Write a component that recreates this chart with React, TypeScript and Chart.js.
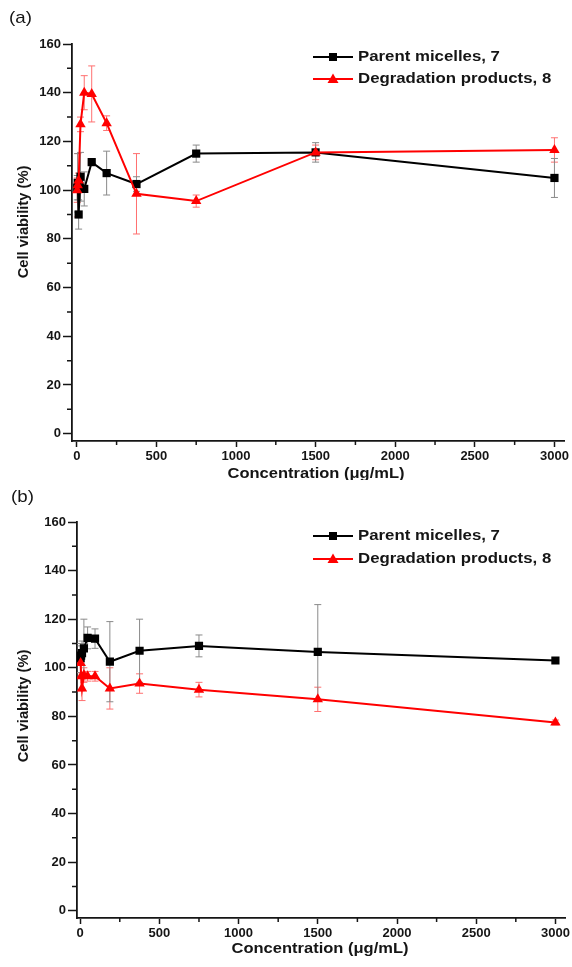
import React, { useEffect, useRef } from 'react';
import { Chart, registerables } from 'chart.js';

Chart.register(...registerables);

// ---------------- DATA ----------------
const CONCENTRATIONS = [2.9, 5.9, 11.7, 23.4, 46.9, 93.75, 187.5, 375, 750, 1500, 3000];

const A_PARENT = [101, 103, 90, 105.5, 100.5, 111.5, 107, 102.5, 115, 115.5, 105];
const A_PARENT_ERR = [5, 12, 6, 10, 7, 1, 9, 3, 3.5, 4, 8];
const A_DEGRADATION = [100, 102, 104, 127, 140, 139.5, 127.5, 98.5, 95.5, 115.5, 116.5];
const A_DEGRADATION_ERR = [5, 13, 3, 3, 7, 11.5, 3, 16.5, 2.5, 3, 5];

const B_PARENT = [104, 105, 106, 108, 112.3, 112, 102.5, 107, 109, 106.5, 103];
const B_PARENT_ERR = [6, 4, 5, 12, 4.5, 4, 16.5, 13, 4.5, 19.5, 1];
const B_DEGRADATION = [102, 96.5, 91.5, 97, 96.5, 96.5, 91.5, 93.5, 91, 87, 77.5];
const B_DEGRADATION_ERR = [4, 6, 5, 3, 2, 2, 8.5, 4, 3, 5, 1];

const X_TICKS = [0, 500, 1000, 1500, 2000, 2500, 3000];
const Y_TICKS = [0, 20, 40, 60, 80, 100, 120, 140, 160];

const SERIES_LABELS = ['Parent micelles, 7', 'Degradation products, 8'];
const X_TITLE = 'Concentration (\u03bcg/mL)';
const Y_TITLE = 'Cell viability (%)';
const PANEL_LABELS = ['(a)', '(b)'];

// ---------------- STYLE ----------------
const FONT = '"Liberation Sans", Arial, Helvetica, sans-serif';
const INK = '#151515';
const BLACK = '#000000';
const RED = '#ff0000';
const BLACK_ERR = '#8a8a8a';
const RED_ERR = '#ff7070';

interface PanelCfg {
  label: string;
  parent: number[];
  parentErr: number[];
  degr: number[];
  degrErr: number[];
  height: number;
  top: number;
  xMin: number;
  xMax: number;
  yMin: number;
  yMax: number;
  yAxisWidth: number;
  xAxisHeight: number;
  padTop: number;
  padRight: number;
  labelPos: [number, number];
  yTitlePos: [number, number];
  xTitlePos: [number, number];
  legendY: [number, number];
}

const PANELS: PanelCfg[] = [
  {
    label: PANEL_LABELS[0],
    parent: A_PARENT,
    parentErr: A_PARENT_ERR,
    degr: A_DEGRADATION,
    degrErr: A_DEGRADATION_ERR,
    top: 0,
    height: 480,
    xMin: -30,
    xMax: 3060,
    yMin: -3,
    yMax: 160,
    yAxisWidth: 72,
    xAxisHeight: 39,
    padTop: 44,
    padRight: 8,
    labelPos: [9, 18],
    yTitlePos: [24, 222],
    xTitlePos: [316, 474],
    legendY: [57, 79],
  },
  {
    label: PANEL_LABELS[1],
    parent: B_PARENT,
    parentErr: B_PARENT_ERR,
    degr: B_DEGRADATION,
    degrErr: B_DEGRADATION_ERR,
    top: 480,
    height: 487,
    xMin: -20,
    xMax: 3063,
    yMin: -3,
    yMax: 160,
    yAxisWidth: 77,
    xAxisHeight: 49,
    padTop: 42,
    padRight: 5,
    labelPos: [11, 17],
    yTitlePos: [24, 226],
    xTitlePos: [320, 469],
    legendY: [56, 79],
  },
];

function drawStretchedText(
  ctx: CanvasRenderingContext2D,
  text: string,
  x: number,
  y: number,
  font: string,
  align: CanvasTextAlign,
  sx: number,
  rotate = 0
) {
  ctx.save();
  ctx.translate(x, y);
  if (rotate) ctx.rotate(rotate);
  ctx.scale(sx, 1);
  ctx.font = font;
  ctx.fillStyle = INK;
  ctx.textAlign = align;
  ctx.textBaseline = 'middle';
  ctx.fillText(text, 0, 0);
  ctx.restore();
}

function drawMarker(ctx: CanvasRenderingContext2D, kind: 'rect' | 'tri', cx: number, cy: number, color: string) {
  ctx.save();
  ctx.fillStyle = color;
  if (kind === 'rect') {
    ctx.fillRect(cx - 4, cy - 4, 8, 8);
  } else {
    ctx.beginPath();
    ctx.moveTo(cx, cy - 5.5);
    ctx.lineTo(cx + 5.5, cy + 4);
    ctx.lineTo(cx - 5.5, cy + 4);
    ctx.closePath();
    ctx.fill();
  }
  ctx.restore();
}

function makeChart(canvas: HTMLCanvasElement, p: PanelCfg) {
  const errorBars = {
    id: 'errorBars',
    beforeDatasetsDraw(chart: any) {
      const ctx: CanvasRenderingContext2D = chart.ctx;
      const yScale = chart.scales.y;
      chart.data.datasets.forEach((ds: any, i: number) => {
        const meta = chart.getDatasetMeta(i);
        ctx.save();
        ctx.strokeStyle = ds.errColor;
        ctx.lineWidth = 1;
        meta.data.forEach((el: any, j: number) => {
          const v = ds.data[j].y;
          const e = ds.errors[j];
          const x = el.x;
          const yt = yScale.getPixelForValue(v + e);
          const yb = yScale.getPixelForValue(v - e);
          ctx.beginPath();
          ctx.moveTo(x, yt);
          ctx.lineTo(x, yb);
          ctx.moveTo(x - 3.5, yt);
          ctx.lineTo(x + 3.5, yt);
          ctx.moveTo(x - 3.5, yb);
          ctx.lineTo(x + 3.5, yb);
          ctx.stroke();
        });
        ctx.restore();
      });
    },
  };

  const decorations = {
    id: 'decorations',
    afterDraw(chart: any) {
      const ctx: CanvasRenderingContext2D = chart.ctx;
      const xs = chart.scales.x;
      const ys = chart.scales.y;
      // minor ticks
      ctx.save();
      ctx.strokeStyle = INK;
      ctx.lineWidth = 1.5;
      ctx.beginPath();
      for (let i = 0; i < X_TICKS.length - 1; i++) {
        const px = xs.getPixelForValue((X_TICKS[i] + X_TICKS[i + 1]) / 2);
        ctx.moveTo(px, xs.top);
        ctx.lineTo(px, xs.top + 4);
      }
      for (let i = 0; i < Y_TICKS.length - 1; i++) {
        const py = ys.getPixelForValue((Y_TICKS[i] + Y_TICKS[i + 1]) / 2);
        ctx.moveTo(ys.right, py);
        ctx.lineTo(ys.right - 5, py);
      }
      ctx.stroke();
      ctx.restore();

      // panel label
      drawStretchedText(ctx, p.label, p.labelPos[0], p.labelPos[1], `17px ${FONT}`, 'left', 1.1);
      // axis titles
      drawStretchedText(ctx, Y_TITLE, p.yTitlePos[0], p.yTitlePos[1], `bold 14px ${FONT}`, 'center', 1.05, -Math.PI / 2);
      drawStretchedText(ctx, X_TITLE, p.xTitlePos[0], p.xTitlePos[1], `bold 15px ${FONT}`, 'center', 1.1);

      // legend
      const lx0 = 313;
      const lx1 = 353;
      const kinds: ('rect' | 'tri')[] = ['rect', 'tri'];
      const colors = [BLACK, RED];
      for (let k = 0; k < 2; k++) {
        const ly = p.legendY[k];
        ctx.save();
        ctx.strokeStyle = colors[k];
        ctx.lineWidth = 2;
        ctx.beginPath();
        ctx.moveTo(lx0, ly);
        ctx.lineTo(lx1, ly);
        ctx.stroke();
        ctx.restore();
        drawMarker(ctx, kinds[k], (lx0 + lx1) / 2, ly, colors[k]);
        drawStretchedText(ctx, SERIES_LABELS[k], 358, ly, `bold 15px ${FONT}`, 'left', 1.12);
      }
    },
  };

  const tickFont = { family: FONT, size: 13, weight: 'bold' as const };

  return new Chart(canvas, {
    type: 'line',
    data: {
      datasets: [
        {
          label: SERIES_LABELS[1],
          data: CONCENTRATIONS.map((x, i) => ({ x, y: p.degr[i] })),
          borderColor: RED,
          backgroundColor: RED,
          borderWidth: 2,
          pointStyle: 'triangle',
          pointRadius: 6,
          pointBorderWidth: 0,
          pointBackgroundColor: RED,
          order: 0,
          errors: p.degrErr,
          errColor: RED_ERR,
        } as any,
        {
          label: SERIES_LABELS[0],
          data: CONCENTRATIONS.map((x, i) => ({ x, y: p.parent[i] })),
          borderColor: BLACK,
          backgroundColor: BLACK,
          borderWidth: 2,
          pointStyle: 'rect',
          pointRadius: 5.8,
          pointBorderWidth: 0,
          pointBackgroundColor: BLACK,
          order: 1,
          errors: p.parentErr,
          errColor: BLACK_ERR,
        } as any,
      ],
    },
    options: {
      animation: false,
      responsive: false,
      devicePixelRatio: 1,
      events: [],
      layout: { padding: { left: 0, top: p.padTop, right: p.padRight, bottom: 0 } },
      plugins: {
        legend: { display: false },
        tooltip: { enabled: false },
        title: { display: false },
      },
      elements: { line: { tension: 0 } },
      scales: {
        x: {
          type: 'linear',
          min: p.xMin,
          max: p.xMax,
          afterBuildTicks: (s: any) => {
            s.ticks = X_TICKS.map((v) => ({ value: v }));
          },
          afterFit: (s: any) => {
            s.height = p.xAxisHeight;
          },
          ticks: {
            font: tickFont,
            color: INK,
            padding: 2,
            maxRotation: 0,
            autoSkip: false,
            callback: (v: any) => String(v),
          },
          grid: { drawOnChartArea: false, tickLength: 6, tickWidth: 1.5, tickColor: INK },
          border: { display: true, color: INK, width: 1.8 },
        },
        y: {
          type: 'linear',
          min: p.yMin,
          max: p.yMax,
          afterBuildTicks: (s: any) => {
            s.ticks = Y_TICKS.map((v) => ({ value: v }));
          },
          afterFit: (s: any) => {
            s.width = p.yAxisWidth;
          },
          ticks: {
            font: tickFont,
            color: INK,
            padding: 2,
            callback: (v: any) => String(v),
          },
          grid: { drawOnChartArea: false, tickLength: 9, tickWidth: 1.5, tickColor: INK },
          border: { display: true, color: INK, width: 1.8 },
        },
      },
    },
    plugins: [errorBars, decorations],
  } as any);
}

function Panel({ cfg }: { cfg: PanelCfg }) {
  const ref = useRef<HTMLCanvasElement | null>(null);
  useEffect(() => {
    if (!ref.current) return;
    const chart = makeChart(ref.current, cfg);
    return () => chart.destroy();
  }, [cfg]);
  return (
    <div style={{ position: 'absolute', left: 0, top: cfg.top, width: 572, height: cfg.height }}>
      <canvas ref={ref} width={572} height={cfg.height} style={{ display: 'block', width: 572, height: cfg.height }} />
    </div>
  );
}

export default function App() {
  return (
    <div style={{ position: 'absolute', left: 0, top: 0, width: 572, height: 967, background: '#ffffff' }}>
      {PANELS.map((p) => (
        <Panel key={p.label} cfg={p} />
      ))}
    </div>
  );
}
